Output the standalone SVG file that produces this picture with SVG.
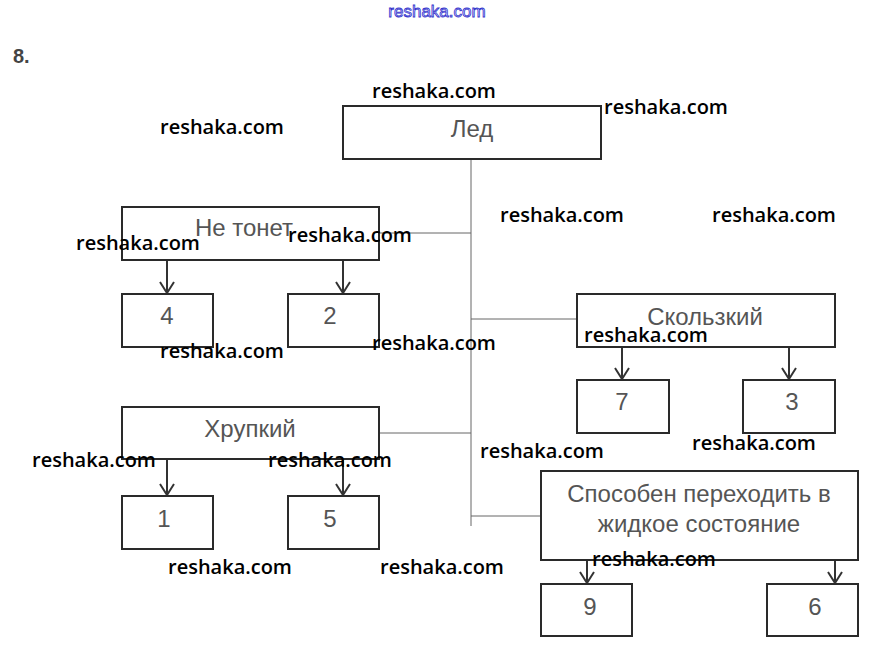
<svg xmlns="http://www.w3.org/2000/svg" width="871" height="664" viewBox="0 0 871 664">
<style>
.box{fill:#fff;stroke:#2a2a2a;stroke-width:2}
.lbl{font-family:"Liberation Sans",Arial,sans-serif;font-size:24px;fill:#555;text-anchor:middle}
.wm{font-family:"Open Sans","Noto Sans",sans-serif;font-size:20px;font-weight:600;fill:#000}
.ln{stroke:#666;stroke-width:1;fill:none}
.ar{stroke:#333;stroke-width:2;fill:none}
</style>
<defs>
<marker id="v" viewBox="0 0 13 16" refX="12" refY="8" markerWidth="13" markerHeight="16" markerUnits="userSpaceOnUse" orient="auto">
<polyline points="1,1 12,8 1,15" fill="none" stroke="#333" stroke-width="2"/>
</marker>
</defs>
<rect width="871" height="664" fill="#fff"/>
<text x="437" y="17" font-family="Liberation Sans,Arial,sans-serif" font-size="17" fill="#ddddff" stroke="#3333cc" stroke-width="0.8" text-anchor="middle">reshaka.com</text>
<text x="13" y="63" font-family="Liberation Sans,Arial,sans-serif" font-size="20" font-weight="bold" fill="#444">8.</text>
<g id="connectors">
<line class="ln" x1="471" y1="159" x2="471" y2="526"/>
<line class="ln" x1="379" y1="233" x2="471" y2="233"/>
<line class="ln" x1="471" y1="319" x2="577" y2="319"/>
<line class="ln" x1="379" y1="433" x2="471" y2="433"/>
<line class="ln" x1="471" y1="516" x2="541" y2="516"/>
<line class="ar" x1="167" y1="260" x2="167" y2="293" marker-end="url(#v)"/>
<line class="ar" x1="343" y1="260" x2="343" y2="293" marker-end="url(#v)"/>
<line class="ar" x1="622" y1="347" x2="622" y2="379" marker-end="url(#v)"/>
<line class="ar" x1="789" y1="347" x2="789" y2="379" marker-end="url(#v)"/>
<line class="ar" x1="167" y1="459" x2="167" y2="495" marker-end="url(#v)"/>
<line class="ar" x1="343" y1="459" x2="343" y2="495" marker-end="url(#v)"/>
<line class="ar" x1="587" y1="560" x2="587" y2="583" marker-end="url(#v)"/>
<line class="ar" x1="835" y1="560" x2="835" y2="583" marker-end="url(#v)"/>
</g>
<g id="led"><rect class="box" x="343" y="106" width="258" height="53"/><text class="lbl" x="472" y="137">Лед</text></g>
<g id="ne-tonet"><rect class="box" x="122" y="207" width="257" height="53"/><text class="lbl" x="244" y="236">Не тонет</text></g>
<g id="n4"><rect class="box" x="122" y="294" width="91" height="53"/><text class="lbl" x="167" y="324">4</text></g>
<g id="n2"><rect class="box" x="288" y="294" width="91" height="53"/><text class="lbl" x="330" y="324">2</text></g>
<g id="skolzkiy"><rect class="box" x="577" y="294" width="258" height="53"/><text class="lbl" x="705" y="325">Скользкий</text></g>
<g id="n7"><rect class="box" x="577" y="380" width="92" height="53"/><text class="lbl" x="622" y="410">7</text></g>
<g id="n3"><rect class="box" x="743" y="380" width="92" height="53"/><text class="lbl" x="792" y="410">3</text></g>
<g id="hrupkiy"><rect class="box" x="122" y="407" width="257" height="52"/><text class="lbl" x="250" y="437">Хрупкий</text></g>
<g id="n1"><rect class="box" x="122" y="496" width="91" height="53"/><text class="lbl" x="164" y="527">1</text></g>
<g id="n5"><rect class="box" x="288" y="496" width="91" height="53"/><text class="lbl" x="330" y="527">5</text></g>
<g id="sposoben"><rect class="box" x="541" y="471" width="317" height="89"/><text class="lbl" x="699" y="502">Способен переходить в</text><text class="lbl" x="699" y="532">жидкое состояние</text></g>
<g id="n9"><rect class="box" x="541" y="584" width="91" height="52"/><text class="lbl" x="590" y="615">9</text></g>
<g id="n6"><rect class="box" x="767" y="584" width="91" height="52"/><text class="lbl" x="815" y="615">6</text></g>
<g id="watermarks">
<text class="wm" x="372" y="98">reshaka.com</text>
<text class="wm" x="604" y="114">reshaka.com</text>
<text class="wm" x="160" y="134">reshaka.com</text>
<text class="wm" x="500" y="222">reshaka.com</text>
<text class="wm" x="712" y="222">reshaka.com</text>
<text class="wm" x="76" y="250">reshaka.com</text>
<text class="wm" x="288" y="242">reshaka.com</text>
<text class="wm" x="160" y="358">reshaka.com</text>
<text class="wm" x="372" y="350">reshaka.com</text>
<text class="wm" x="584" y="342">reshaka.com</text>
<text class="wm" x="32" y="467">reshaka.com</text>
<text class="wm" x="268" y="467">reshaka.com</text>
<text class="wm" x="480" y="458">reshaka.com</text>
<text class="wm" x="692" y="450">reshaka.com</text>
<text class="wm" x="168" y="574">reshaka.com</text>
<text class="wm" x="380" y="574">reshaka.com</text>
<text class="wm" x="592" y="566">reshaka.com</text>
</g>
</svg>
